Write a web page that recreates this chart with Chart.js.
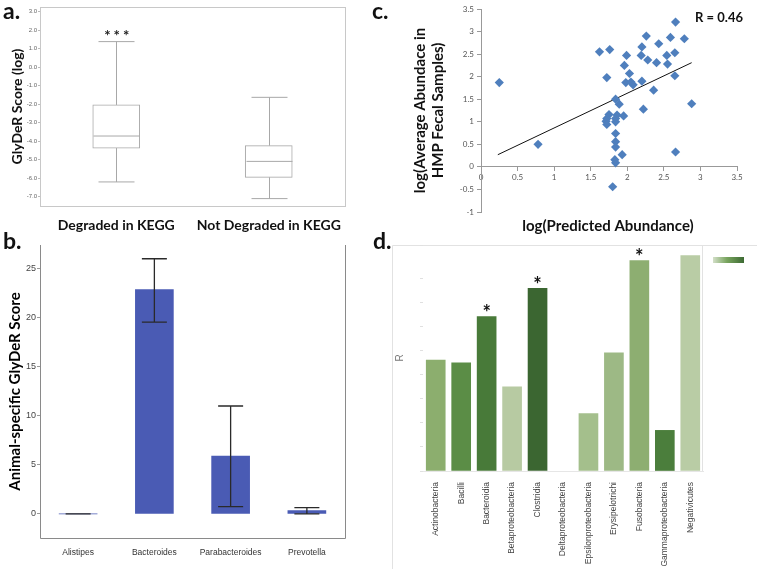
<!DOCTYPE html>
<html>
<head>
<meta charset="utf-8">
<script src="https://cdn.jsdelivr.net/npm/chart.js@4"></script>
<style>
  body { margin: 0; background: #fff; }
  #wrap { position: relative; width: 757px; height: 569px; overflow: hidden; }
  canvas { position: absolute; }
  .tag { position: absolute; font: bold 23px Lato, sans-serif; color: #111; }
</style>
</head>
<body>
<div id="wrap">
  <canvas id="chartA" style="left:0px;top:0px" width="380" height="235"></canvas>
  <canvas id="chartB" style="left:0px;top:235px" width="380" height="334"></canvas>
  <canvas id="chartC" style="left:380px;top:0px" width="377" height="235"></canvas>
  <canvas id="chartD" style="left:380px;top:235px" width="377" height="334"></canvas>
  <div class="tag" style="left:3px;top:-4px">a.</div>
  <div class="tag" style="left:3px;top:226px">b.</div>
  <div class="tag" style="left:372px;top:-4px">c.</div>
  <div class="tag" style="left:373px;top:226px">d.</div>
</div>
<script>
//-----------Panel a: box plot data-----------
const boxCats = ['Degraded in KEGG', 'Not Degraded in KEGG'];
const boxMin = [-6.2, -7.1];
const boxQ1 = [-4.37, -5.95];
const boxMed = [-3.72, -5.09];
const boxQ3 = [-2.04, -4.24];
const boxMax = [1.38, -1.63];
const boxTicks = [3, 2, 1, 0, -1, -2, -3, -4, -5, -6, -7];

//-----------Panel b: bar + error data-----------
const genera = ['Alistipes', 'Bacteroides', 'Parabacteroides', 'Prevotella'];
const generaScore = [0, 22.85, 5.9, 0.35];
const generaLow = [0, 19.55, 0.75, 0];
const generaHigh = [0, 26.0, 11.0, 0.64];
const generaTicks = [0, 5, 10, 15, 20, 25];

//-----------Panel c: scatter data-----------
const predX = [0.25, 0.78, 1.62, 1.76, 1.72, 1.75, 1.72, 1.71, 1.72, 1.84, 1.89, 1.86, 1.84, 1.84, 1.84, 1.84, 1.84, 1.83, 1.84, 1.93, 1.80, 1.95, 1.99, 1.96, 1.98, 2.03, 2.05, 2.08, 2.20, 2.19, 2.20, 2.26, 2.28, 2.22, 2.36, 2.43, 2.40, 2.54, 2.55, 2.59, 2.65, 2.66, 2.65, 2.78, 2.66, 2.88];
const hmpY = [1.87, 0.50, 2.55, 2.60, 1.98, 1.16, 1.07, 1.01, 0.94, 1.50, 1.39, 1.15, 1.07, 1.00, 0.74, 0.56, 0.44, 0.16, 0.09, 0.27, -0.44, 1.13, 2.47, 2.25, 1.87, 2.07, 1.88, 1.82, 1.90, 2.47, 2.66, 2.90, 2.37, 1.28, 1.70, 2.73, 2.31, 2.47, 2.28, 2.87, 2.53, 3.21, 2.02, 2.84, 0.33, 1.40];
const trendX = [0.23, 2.88];
const trendY = [0.27, 2.31];

//-----------Panel d: class R data-----------
const classes = ['Actinobacteria', 'Bacilli', 'Bacteroidia', 'Betaproteobacteria', 'Clostridia', 'Deltaproteobacteria', 'Epsilonproteobacteria', 'Erysipelotrichi', 'Fusobacteria', 'Gammaproteobacteria', 'Negativicutes'];
const classR = [0.461, 0.45, 0.642, 0.35, 0.76, 0, 0.239, 0.492, 0.875, 0.169, 0.896];
const classSig = [false, false, true, false, true, false, false, false, true, false, false];
const classColors = ['#8cae6e', '#5b8d46', '#487a39', '#b7caa2', '#3b6631', '#ffffff', '#a4bf8c', '#9db985', '#8dae71', '#4b7e3c', '#b9cca5'];

Chart.defaults.animation = false;
Chart.defaults.plugins.legend.display = false;
Chart.defaults.plugins.tooltip.enabled = false;

// draw whiskers, medians, frame and stars for panel a
const boxPlugin = {
  id: 'boxPlugin',
  afterDatasetsDraw(chart) {
    const {ctx, chartArea: a, scales: {x, y}} = chart;
    ctx.save();
    ctx.strokeStyle = '#c8c8c8';
    ctx.lineWidth = 1;
    ctx.strokeRect(a.left + 0.5, a.top + 0.5, a.width, a.height);
    ctx.strokeStyle = '#a8a8a8';
    boxCats.forEach((c, i) => {
      const cx = Math.round(x.getPixelForValue(i)) + 0.5;
      const line = (x1, y1, x2, y2) => { ctx.beginPath(); ctx.moveTo(x1, y1); ctx.lineTo(x2, y2); ctx.stroke(); };
      line(cx, y.getPixelForValue(boxMax[i]), cx, y.getPixelForValue(boxQ3[i]));
      line(cx, y.getPixelForValue(boxQ1[i]), cx, y.getPixelForValue(boxMin[i]));
      line(cx - 18, y.getPixelForValue(boxMax[i]), cx + 18, y.getPixelForValue(boxMax[i]));
      line(cx - 18, y.getPixelForValue(boxMin[i]), cx + 18, y.getPixelForValue(boxMin[i]));
      line(cx - 23, y.getPixelForValue(boxMed[i]), cx + 23, y.getPixelForValue(boxMed[i]));
    });
    ctx.fillStyle = '#222';
    ctx.font = 'bold 15px Lato';
    ctx.textAlign = 'center';
    ctx.textBaseline = 'middle';
    ctx.letterSpacing = '3px';
    ctx.fillText('***', x.getPixelForValue(0) + 2, y.getPixelForValue(boxMax[0]) - 5);
    ctx.restore();
  }
};

new Chart(document.getElementById('chartA'), {
  type: 'bar',
  data: {
    labels: boxCats,
    datasets: [{
      data: boxQ1.map((q, i) => [q, boxQ3[i]]),
      backgroundColor: '#fff',
      borderColor: '#a8a8a8',
      borderWidth: 1,
      borderSkipped: false,
      barThickness: 47
    }]
  },
  options: {
    responsive: false,
    layout: { padding: { top: 7, right: 35, left: 0, bottom: 0 } },
    scales: {
      x: {
        grid: { display: false },
        border: { display: false },
        ticks: { color: '#111', font: { family: 'Lato', weight: 'bold', size: 14 }, padding: 3 },
        afterFit: s => { s.height = 29; }
      },
      y: {
        min: -7.5, max: 3.25,
        afterBuildTicks: s => { s.ticks = boxTicks.map(v => ({ value: v })); },
        grid: { drawOnChartArea: false, tickLength: 2, color: '#bbb' },
        border: { display: false },
        ticks: { color: '#666', font: { family: 'Arial', size: 6 }, padding: 1, callback: v => v.toFixed(1) },
        title: { display: true, text: 'GlyDeR Score (log)', color: '#111', font: { family: 'Lato', weight: 'bold', size: 14 }, padding: { top: 9 } },
        afterFit: s => { s.width = 40; }
      }
    }
  },
  plugins: [boxPlugin]
});

// error bars and frame for panel b
const errPlugin = {
  id: 'errPlugin',
  afterDatasetsDraw(chart) {
    const {ctx, chartArea: a, scales: {x, y}} = chart;
    ctx.save();
    ctx.strokeStyle = '#8a8a8a';
    ctx.lineWidth = 1;
    ctx.beginPath();
    ctx.moveTo(a.left + 0.5, a.top);
    ctx.lineTo(a.left + 0.5, a.bottom + 0.5);
    ctx.lineTo(a.right + 0.5, a.bottom + 0.5);
    ctx.lineTo(a.right + 0.5, a.top);
    ctx.stroke();
    ctx.strokeStyle = '#2a2a2a';
    ctx.lineWidth = 1.3;
    genera.forEach((g, i) => {
      const cx = x.getPixelForValue(i);
      const lo = y.getPixelForValue(generaLow[i]);
      const hi = y.getPixelForValue(generaHigh[i]);
      ctx.beginPath();
      ctx.moveTo(cx, lo); ctx.lineTo(cx, hi);
      ctx.moveTo(cx - 12.5, lo); ctx.lineTo(cx + 12.5, lo);
      ctx.moveTo(cx - 12.5, hi); ctx.lineTo(cx + 12.5, hi);
      ctx.stroke();
    });
    ctx.restore();
  }
};

new Chart(document.getElementById('chartB'), {
  type: 'bar',
  data: {
    labels: genera,
    datasets: [{ data: generaScore, backgroundColor: '#4a5bb4', barThickness: 38 }]
  },
  options: {
    responsive: false,
    layout: { padding: { top: 10, right: 35, left: 0, bottom: 0 } },
    scales: {
      x: {
        grid: { display: false },
        border: { display: false },
        ticks: { color: '#333', font: { family: 'Arial', size: 8.5 }, padding: 2 },
        afterFit: s => { s.height = 31; }
      },
      y: {
        min: -2.45, max: 27.4,
        afterBuildTicks: s => { s.ticks = generaTicks.map(v => ({ value: v })); },
        grid: { drawOnChartArea: false, tickLength: 3, color: '#999' },
        border: { display: false },
        ticks: { color: '#444', font: { family: 'Arial', size: 9 }, padding: 1 },
        title: { display: true, text: 'Animal-specific GlyDeR Score', color: '#000', font: { family: 'Lato', weight: 'bold', size: 15 }, padding: { top: 6 } },
        afterFit: s => { s.width = 40; }
      }
    }
  },
  plugins: [errPlugin]
});

// annotation texts for panel c
const scatterText = {
  id: 'scatterText',
  afterDraw(chart) {
    const {ctx} = chart;
    ctx.save();
    ctx.fillStyle = '#111';
    ctx.textAlign = 'center';
    ctx.textBaseline = 'middle';
    ctx.font = 'bold 15px Lato';
    ctx.fillText('log(Predicted Abundance)', 228, 226);
    ctx.font = 'bold 13px Lato';
    ctx.fillText('R = 0.46', 339, 18);
    ctx.restore();
  }
};

new Chart(document.getElementById('chartC'), {
  type: 'scatter',
  data: {
    datasets: [{
      data: predX.map((v, i) => ({ x: v, y: hmpY[i] })),
      pointStyle: 'rectRot',
      pointRadius: 4.6,
      backgroundColor: '#4f7fbd',
      borderWidth: 0
    }, {
      type: 'line',
      data: trendX.map((v, i) => ({ x: v, y: trendY[i] })),
      borderColor: '#111',
      borderWidth: 1,
      pointRadius: 0
    }]
  },
  options: {
    responsive: false,
    layout: { padding: { top: 9, right: 20, left: 0, bottom: 23 } },
    scales: {
      x: {
        type: 'linear',
        min: 0, max: 3.5,
        position: { y: 0 },
        grid: { drawOnChartArea: false, tickLength: 4, color: '#999' },
        border: { color: '#999' },
        ticks: { stepSize: 0.5, color: '#555', font: { family: 'Lato', size: 8 }, padding: 2, callback: v => String(v) }
      },
      y: {
        min: -1, max: 3.5,
        grid: { drawOnChartArea: false, tickLength: 4, color: '#999' },
        border: { color: '#999' },
        ticks: { stepSize: 0.5, color: '#555', font: { family: 'Lato', size: 8 }, padding: 3, callback: v => String(v) },
        title: { display: true, text: ['log(Average Abundace in', 'HMP Fecal Samples)'], color: '#111', font: { family: 'Lato', weight: 'bold', size: 15 }, padding: { top: 31 } },
        afterFit: s => { s.width = 101; }
      }
    }
  },
  plugins: [scatterText]
});

// frame, stars and gradient key for panel d
const classPlugin = {
  id: 'classPlugin',
  beforeDraw(chart) {
    const {ctx, chartArea: a} = chart;
    ctx.save();
    ctx.strokeStyle = '#e2e2e2';
    ctx.lineWidth = 1;
    ctx.beginPath();
    ctx.moveTo(12.5, chart.height); ctx.lineTo(12.5, 10.5); ctx.lineTo(chart.width, 10.5);
    ctx.moveTo(a.right - 0.5, 10.5); ctx.lineTo(a.right - 0.5, a.bottom);
    ctx.stroke();
    const g = ctx.createLinearGradient(333, 0, 364, 0);
    g.addColorStop(0, '#d3dfc8');
    g.addColorStop(0.45, '#78a45e');
    g.addColorStop(1, '#3d6a33');
    ctx.fillStyle = g;
    ctx.fillRect(333, 22, 31, 6);
    ctx.restore();
  },
  afterDatasetsDraw(chart) {
    const {ctx, scales: {x, y}} = chart;
    ctx.save();
    ctx.fillStyle = '#111';
    ctx.font = 'bold 20px Lato';
    ctx.textAlign = 'center';
    ctx.textBaseline = 'middle';
    classes.forEach((c, i) => {
      if (classSig[i]) ctx.fillText('*', x.getPixelForValue(i), y.getPixelForValue(classR[i]) - 3);
    });
    ctx.restore();
  }
};

new Chart(document.getElementById('chartD'), {
  type: 'bar',
  data: {
    labels: classes,
    datasets: [{ data: classR, backgroundColor: classColors, barThickness: 19 }]
  },
  options: {
    responsive: false,
    layout: { padding: { top: 10, right: 54, left: 0, bottom: 0 } },
    scales: {
      x: {
        grid: { display: false },
        border: { color: '#e6e6e6' },
        ticks: { color: '#444', font: { family: 'Arial', size: 8.5 }, minRotation: 90, maxRotation: 90, padding: 3 },
        afterFit: s => { s.height = 98; }
      },
      y: {
        min: 0, max: 0.94,
        grid: { drawOnChartArea: false, tickLength: 3, color: '#e0e0e0' },
        border: { display: false },
        ticks: { stepSize: 0.1, display: false },
        title: { display: true, text: 'R', color: '#777', font: { family: 'Arial', size: 10 }, padding: { top: 14 } },
        afterFit: s => { s.width = 43; }
      }
    }
  },
  plugins: [classPlugin]
});
</script>
</body>
</html>
